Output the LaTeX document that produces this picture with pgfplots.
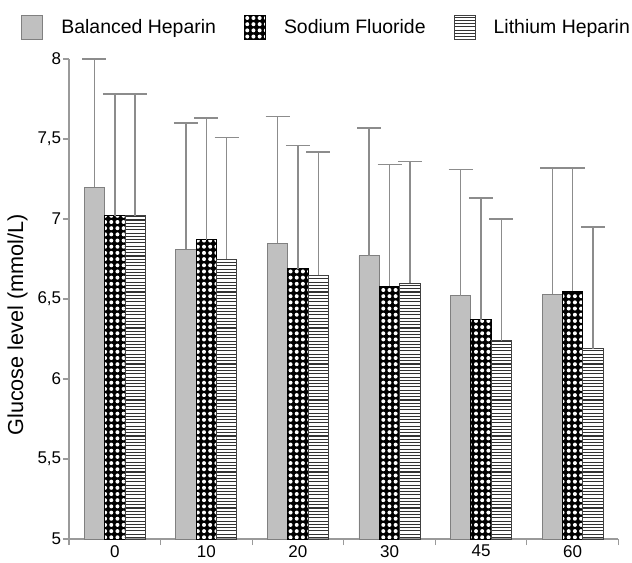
\documentclass[border=0pt]{standalone}
\usepackage{pgfplots}
\usepackage{pgfplotstable}
\pgfplotsset{compat=1.18}
\usepackage{fontspec}
\setmainfont{Liberation Sans}
\usetikzlibrary{patterns}

\pgfdeclarepatternformonly{densehlines}{\pgfpoint{-1pt}{0pt}}{\pgfpoint{5pt}{1.8pt}}{\pgfpoint{4pt}{1.8pt}}{%
  \pgfsetlinewidth{0.6pt}\pgfpathmoveto{\pgfpoint{-1pt}{0.9pt}}\pgfpathlineto{\pgfpoint{5pt}{0.9pt}}\pgfusepath{stroke}}
\pgfdeclarepatternformonly{whitedots}{\pgfpoint{-1.7pt}{-1.7pt}}{\pgfpoint{1.7pt}{1.7pt}}{\pgfpoint{3.4pt}{3.4pt}}{%
  \pgfpathcircle{\pgfpointorigin}{1.1pt}\pgfusepath{fill}}

\definecolor{bhfill}{HTML}{C0C0C0}
\definecolor{bhdraw}{HTML}{808080}
\definecolor{errcol}{HTML}{8C8C8C}
\definecolor{axcol}{HTML}{9A9A9A}

\pgfplotstableread{
x  bh   bhe  sf   sfe  lh   lhe
0 7.20 0.80 7.02 0.76 7.02 0.76
1 6.81 0.79 6.87 0.76 6.75 0.76
2 6.85 0.79 6.69 0.77 6.65 0.77
3 6.77 0.80 6.58 0.76 6.60 0.76
4 6.52 0.79 6.37 0.76 6.24 0.76
5 6.53 0.79 6.55 0.77 6.19 0.76
}\datatable

\begin{document}
\begin{tikzpicture}
\begin{axis}[
  scale only axis,
  width=302.2pt, height=264pt,
  ybar=0pt, bar width=11.2pt,
  xmin=-0.5, xmax=5.5, ymin=5, ymax=8,
  clip=false,
  axis x line*=bottom, axis y line*=left,
  axis line style={axcol, line width=0.6pt},
  tick style={axcol, line width=0.6pt},
  tick align=outside,
  xtick={0,1,2,3,4,5},
  xticklabels={0,10,20,30,45,60},
  major x tick style={draw=none},
  minor xtick={-0.5,0.5,1.5,2.5,3.5,4.5,5.5},
  minor tick length=3.3pt,
  major tick length=3.1pt,
  ytick={5,5.5,6,6.5,7,7.5,8},
  /pgf/number format/use comma,
  /pgf/number format/assume math mode=true,
  ticklabel style={font=\fontsize{9.35}{11}\selectfont},
  yticklabel style={inner xsep=1pt},
  xticklabel style={yshift=3.2pt},
  ylabel={Glucose level (mmol/L)},
  ylabel style={at={(axis description cs:-0.0937,0.446)}, anchor=center, font=\fontsize{11.9}{14}\selectfont},
  legend columns=3,
  legend style={draw=none, fill=none, inner sep=0pt, at={(axis description cs:-0.08735,1.0656)}, anchor=west,
    font=\fontsize{10.7}{13}\selectfont,
    nodes={inner xsep=1pt, inner ysep=1pt},
    /tikz/every odd column/.append style={column sep=0pt},
    /tikz/every even column/.append style={column sep=14.4pt}},
  legend image code/.code={\draw[#1] (0pt,-6.5pt) rectangle (11.5pt,6.5pt); \path (20.5pt,0pt);},
  error bars/y dir=plus,
  error bars/y explicit,
  error bars/error bar style={errcol, line width=0.8pt},
  error bars/error mark options={rotate=90, mark size=6.6pt, errcol, line width=0.8pt},
]
\addplot[fill=bhfill, draw=bhdraw, line width=0.5pt] table[x=x, y=bh, y error=bhe] {\datatable};
\addplot[fill=black, draw=black, line width=0.5pt, postaction={pattern=whitedots, pattern color=white}] table[x=x, y=sf, y error=sfe] {\datatable};
\addplot[fill=white, draw=black!75, line width=0.5pt, pattern=densehlines, pattern color=black!80] table[x=x, y=lh, y error=lhe] {\datatable};
\legend{Balanced Heparin, Sodium Fluoride, Lithium Heparin}
\end{axis}
\pgfresetboundingbox
\useasboundingbox (-37.95pt,-12.65pt) rectangle (309.65pt,296.45pt);
\end{tikzpicture}
\end{document}
